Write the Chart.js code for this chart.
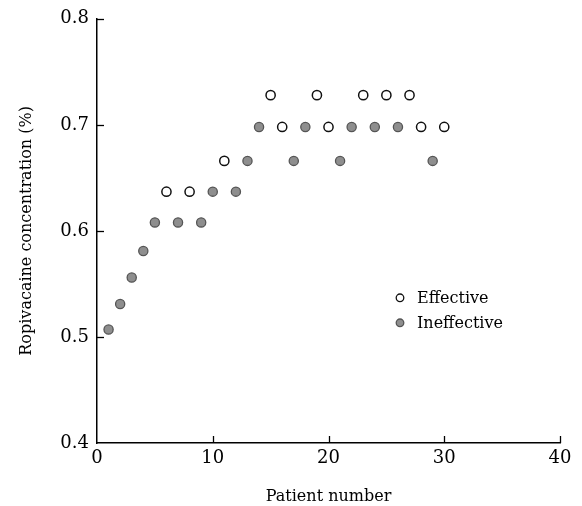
<!DOCTYPE html>
<html>
<head>
<meta charset="utf-8">
<script src="https://cdn.jsdelivr.net/npm/chart.js@4.4.1/dist/chart.umd.min.js"></script>
<style>
  html, body { margin: 0; padding: 0; background: #fff; }
  #wrap { width: 582px; height: 506px; }
</style>
</head>
<body>
<div id="wrap"><canvas id="chart" width="582" height="506"></canvas></div>
<script>
// sequential (up-and-down) allocation, one dose per patient
const patients = [1, 2, 3, 4, 5, 6, 7, 8, 9, 10, 11, 12, 13, 14, 15,
                  16, 17, 18, 19, 20, 21, 22, 23, 24, 25, 26, 27, 28, 29, 30];
const concentration = [0.507, 0.531, 0.556, 0.581, 0.608, 0.637, 0.608, 0.637, 0.608, 0.637,
                       0.666, 0.637, 0.666, 0.698, 0.728, 0.698, 0.666, 0.698, 0.728, 0.698,
                       0.666, 0.698, 0.728, 0.698, 0.728, 0.698, 0.728, 0.698, 0.666, 0.698];
// E = effective, I = ineffective
const outcome = ['I', 'I', 'I', 'I', 'I', 'E', 'I', 'E', 'I', 'I',
                 'E', 'I', 'I', 'I', 'E', 'E', 'I', 'I', 'E', 'E',
                 'I', 'I', 'E', 'I', 'E', 'I', 'E', 'E', 'I', 'E'];
const seriesNames = ['Effective', 'Ineffective'];
const xTicks = [0, 10, 20, 30, 40];
const yTicks = [0.4, 0.5, 0.6, 0.7, 0.8];

const effective = [];
const ineffective = [];
patients.forEach((p, i) => {
    (outcome[i] === 'E' ? effective : ineffective).push({ x: p, y: concentration[i] });
});

const serif = "'DejaVu Serif', 'Liberation Serif', serif";

// ticks in the reference point inward from the axis lines
const innerTicks = {
    id: 'innerTicks',
    afterDraw(chart) {
        const { ctx, chartArea, scales } = chart;
        ctx.save();
        ctx.strokeStyle = '#000';
        ctx.lineWidth = 1.3;
        scales.x.ticks.forEach(t => {
            if (t.value === scales.x.min) return;
            const px = Math.round(scales.x.getPixelForValue(t.value)) + 0.5;
            ctx.beginPath();
            ctx.moveTo(px, chartArea.bottom);
            ctx.lineTo(px, chartArea.bottom - 7);
            ctx.stroke();
        });
        scales.y.ticks.forEach(t => {
            if (t.value === scales.y.min) return;
            const py = Math.round(scales.y.getPixelForValue(t.value)) + 0.5;
            ctx.beginPath();
            ctx.moveTo(chartArea.left, py);
            ctx.lineTo(chartArea.left + 7, py);
            ctx.stroke();
        });
        ctx.restore();
    }
};

// legend sits inside the plot on the right
const innerLegend = {
    id: 'innerLegend',
    afterDraw(chart) {
        const { ctx, chartArea } = chart;
        const x0 = chartArea.left + 303;
        const y0 = chartArea.top + 279;
        ctx.save();
        ctx.font = '16px ' + serif;
        ctx.textBaseline = 'middle';
        ctx.fillStyle = '#000';
        chart.data.datasets.forEach((ds, i) => {
            const y = y0 + i * 25;
            ctx.beginPath();
            ctx.arc(x0, y, 3.8, 0, Math.PI * 2);
            ctx.fillStyle = ds.backgroundColor;
            ctx.fill();
            ctx.lineWidth = 1.3;
            ctx.strokeStyle = ds.borderColor;
            ctx.stroke();
            ctx.fillStyle = '#000';
            ctx.fillText(ds.label, x0 + 17, y + 1);
        });
        ctx.restore();
    }
};

new Chart(document.getElementById('chart'), {
    type: 'scatter',
    data: {
        datasets: [{
            label: seriesNames[0],
            data: effective,
            backgroundColor: '#ffffff',
            borderColor: '#111111',
            pointRadius: 4.6,
            pointBorderWidth: 1.5
        }, {
            label: seriesNames[1],
            data: ineffective,
            backgroundColor: '#8e8e8e',
            borderColor: '#555555',
            pointRadius: 4.6,
            pointBorderWidth: 1.3
        }]
    },
    options: {
        responsive: false,
        animation: false,
        layout: { padding: { left: 13, top: 17, right: 22, bottom: 0 } },
        plugins: {
            legend: { display: false },
            tooltip: { enabled: false }
        },
        scales: {
            x: {
                type: 'linear',
                min: 0,
                max: 40,
                afterBuildTicks: scale => { scale.ticks = xTicks.map(v => ({ value: v })); },
                afterFit: scale => { scale.height = 63; },
                grid: { display: false, drawTicks: false },
                border: { display: true, color: '#000', width: 1.5 },
                ticks: {
                    color: '#000',
                    font: { family: serif, size: 18 },
                    padding: 5,
                    maxRotation: 0,
                    callback: v => String(v)
                },
                title: {
                    display: true,
                    text: 'Patient number',
                    color: '#000',
                    font: { family: serif, size: 16 },
                    padding: { top: 4, bottom: 0 }
                }
            },
            y: {
                type: 'linear',
                min: 0.4,
                max: 0.8,
                afterBuildTicks: scale => { scale.ticks = yTicks.map(v => ({ value: v })); },
                afterFit: scale => { scale.width = 84; },
                grid: { display: false, drawTicks: false },
                border: { display: true, color: '#000', width: 1.5 },
                ticks: {
                    color: '#000',
                    font: { family: serif, size: 18 },
                    padding: 8,
                    callback: v => v.toFixed(1)
                },
                title: {
                    display: true,
                    text: 'Ropivacaine concentration (%)',
                    color: '#000',
                    font: { family: serif, size: 16 },
                    padding: { top: 4, bottom: 4 }
                }
            }
        }
    },
    plugins: [innerTicks, innerLegend]
});
</script>
</body>
</html>
